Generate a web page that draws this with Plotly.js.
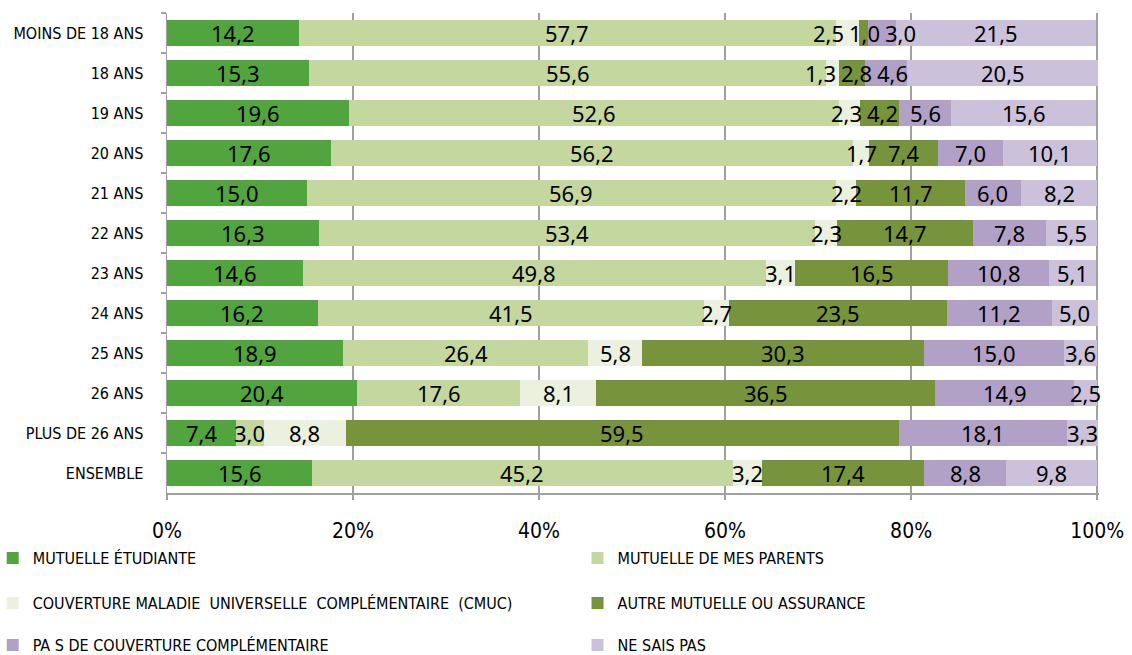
<!DOCTYPE html>
<html><head><meta charset="utf-8">
<script src="https://cdn.plot.ly/plotly-3.0.1.min.js"></script>
<style>body{margin:0;background:#fff}#chart{width:1132px;height:655px}</style>
</head><body><div id="chart"></div>
<script>
const categories = ["MOINS DE 18 ANS","18 ANS","19 ANS","20 ANS","21 ANS","22 ANS","23 ANS","24 ANS","25 ANS","26 ANS","PLUS DE 26 ANS","ENSEMBLE"];
const seriesNames = ["MUTUELLE ÉTUDIANTE","MUTUELLE DE MES PARENTS","COUVERTURE MALADIE  UNIVERSELLE  COMPLÉMENTAIRE  (CMUC)","AUTRE MUTUELLE OU ASSURANCE","PA S DE COUVERTURE COMPLÉMENTAIRE","NE SAIS PAS"];
const mutuelleEtudiante = [14.2,15.3,19.6,17.6,15.0,16.3,14.6,16.2,18.9,20.4,7.4,15.6];
const mutuelleParents   = [57.7,55.6,52.6,56.2,56.9,53.4,49.8,41.5,26.4,17.6,3.0,45.2];
const cmuc              = [2.5,1.3,2.3,1.7,2.2,2.3,3.1,2.7,5.8,8.1,8.8,3.2];
const autreMutuelle     = [1.0,2.8,4.2,7.4,11.7,14.7,16.5,23.5,30.3,36.5,59.5,17.4];
const pasCouverture     = [3.0,4.6,5.6,7.0,6.0,7.8,10.8,11.2,15.0,14.9,18.1,8.8];
const neSaisPas         = [21.5,20.5,15.6,10.1,8.2,5.5,5.1,5.0,3.6,2.5,3.3,9.8];
const xTicks = [0,20,40,60,80,100];

const colors = ["#52a43f","#c3d79f","#ebf1de","#77933c","#b2a1c7","#ccc1da"];
const values = [mutuelleEtudiante,mutuelleParents,cmuc,autreMutuelle,pasCouverture,neSaisPas];
const condensed = "'Liberation Sans Narrow','DejaVu Sans Condensed',sans-serif";
const labelFamily = "'Noto Sans','Open Sans',sans-serif";
const labelFont = {family:labelFamily, size:22, color:"#000"};
const fmt = d => d.toFixed(1).replace('.',',');

const legendIds = ["legend","legend2","legend3","legend4","legend5","legend6"];
const traces = values.map((v,i)=>({
  type:"bar", orientation:"h", name:seriesNames[i], x:v, y:categories,
  marker:{color:colors[i], line:{width:0}},
  hoverinfo:"x+y+name", legend:legendIds[i]
}));

// data labels: centred on each segment, nudged apart where they would collide
const ctx = document.createElement("canvas").getContext("2d");
ctx.font = "22px " + labelFamily;
const plotW = 932, xMax = 100.2;
const pxPerUnit = plotW / xMax;
const annotations = [];
categories.forEach((cat, r) => {
  let cum = 0;
  const labs = values.map(v => {
    const val = v[r];
    const c = cum + val/2; cum += val;
    const t = fmt(val);
    const wPx = ctx.measureText(t).width;
    return {x:c, w:wPx/pxPerUnit, t};
  });
  const gap = 5/pxPerUnit;
  for (let it=0; it<80; it++) {
    for (let i=0;i<labs.length-1;i++){
      const ov = (labs[i].x + labs[i].w/2 + gap) - (labs[i+1].x - labs[i+1].w/2);
      if (ov > 0) { labs[i].x -= ov/2; labs[i+1].x += ov/2; }
    }
  }
  labs.forEach(l => annotations.push({x:l.x, y:cat, xref:"x", yref:"y", text:l.t, showarrow:false,
    font:labelFont, xanchor:"center", yanchor:"middle"}));
});

const legBase = {orientation:"h", xref:"paper", yref:"container", xanchor:"left", yanchor:"middle",
  font:{family:condensed, size:16, color:"#000"}, bgcolor:"rgba(0,0,0,0)", itemwidth:30};
const legPos = [[-0.187,558],[0.4405,558],[-0.187,603],[0.4405,603],[-0.187,645],[0.4405,645]];
const layout = {
  width:1132, height:655,
  margin:{l:167, r:33, t:13, b:162, autoexpand:false},
  paper_bgcolor:"#fff", plot_bgcolor:"#fff",
  barmode:"stack", bargap:0.34,
  separators:",.",
  annotations,
  xaxis:{range:[0,xMax], tickvals:xTicks, ticktext:xTicks.map(t=>t+"%"), automargin:false,
    showgrid:true, gridcolor:"#a0a0a0", gridwidth:1.5, zeroline:false,
    showline:true, linecolor:"#a0a0a0", linewidth:1.5, ticks:"outside", ticklen:5, tickcolor:"#a0a0a0", tickwidth:1.5,
    ticklabelstandoff:13,
    tickfont:{family:condensed, size:21, color:"#000"}, fixedrange:true},
  yaxis:{categoryorder:"array", categoryarray:categories, autorange:"reversed", automargin:false,
    showline:true, linecolor:"#a0a0a0", linewidth:1.5, ticks:"outside", tickson:"boundaries", ticklen:5, tickcolor:"#a0a0a0", tickwidth:1.5,
    showgrid:false, ticklabelstandoff:19,
    tickfont:{family:condensed, size:16, color:"#000"}, fixedrange:true},
  showlegend:true
};
legendIds.forEach((id,i)=>{
  layout[id] = Object.assign({}, legBase, {x:legPos[i][0], y:1 - legPos[i][1]/655});
});
Plotly.newPlot("chart", traces, layout, {displayModeBar:false, staticPlot:true});
</script></body></html>
